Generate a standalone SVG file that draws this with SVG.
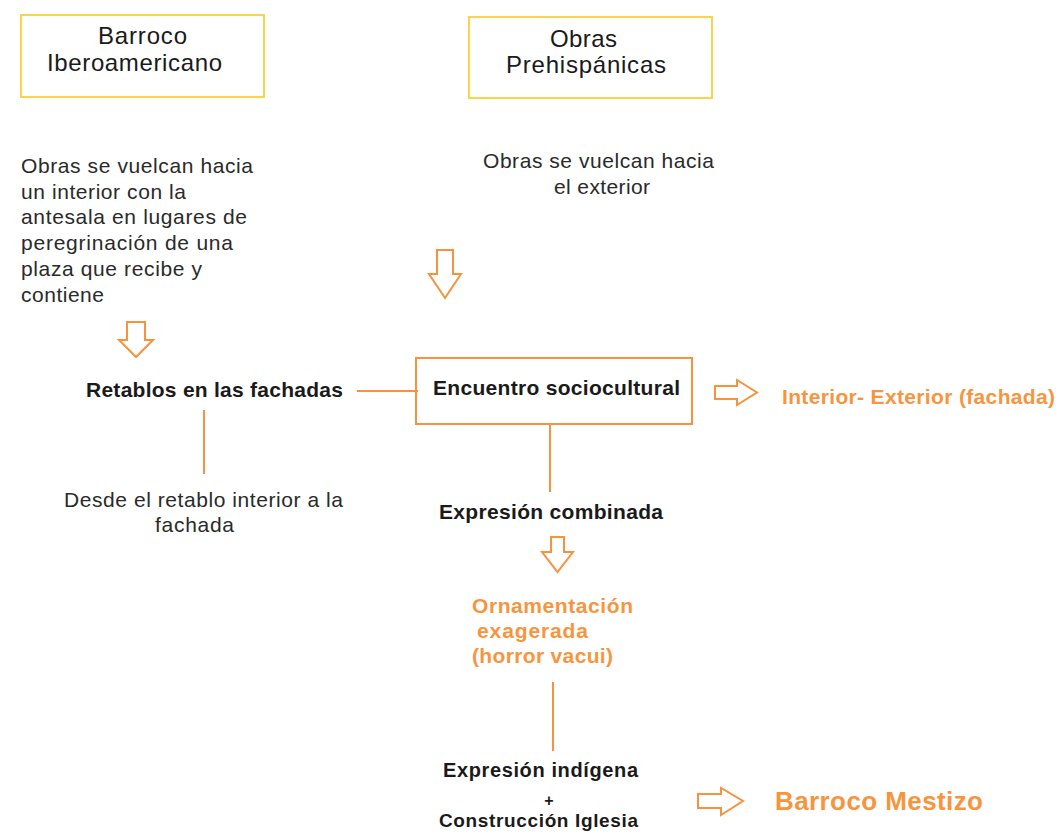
<svg xmlns="http://www.w3.org/2000/svg" width="1058" height="840" viewBox="0 0 1058 840">
<style>
  text { font-family: "Liberation Sans", Arial, sans-serif; }
  .title { font-size: 24px; fill: #1a1a1a; }
  .body { font-size: 21px; fill: #2a2a2a; }
  .bold { font-size: 21px; font-weight: bold; fill: #1a1a1a; }
  .orange { font-size: 21px; font-weight: bold; fill: #F7953F; }
  .ybox { fill: none; stroke: #FAD44C; stroke-width: 2; }
  .obox { fill: none; stroke: #F7923E; stroke-width: 2; }
  .line { stroke: #F7923E; stroke-width: 2; fill: none; }
  .harrow { fill: #fff; stroke: #F7923E; stroke-width: 2; stroke-linejoin: miter; }
</style>
<rect width="1058" height="840" fill="#fff"/>

<g id="connectors">
  <line class="line" x1="357" y1="391" x2="418" y2="391"/>
  <line class="line" x1="204" y1="410" x2="204" y2="474"/>
  <line class="line" x1="550" y1="424" x2="550" y2="492"/>
  <line class="line" x1="553" y1="682" x2="553" y2="751"/>
  <polygon class="harrow" points="127,322 145,322 145,340 153,340 136,357 119,340 127,340"/>
  <polygon class="harrow" points="437,250 453,250 453,274 461,274 445,298 429,274 437,274"/>
  <polygon class="harrow" points="551,537 564,537 564,552 573,552 557.5,572 542,552 551,552"/>
  <polygon class="harrow" points="715,386 737,386 737,380 757,392.5 737,405 737,399 715,399"/>
  <polygon class="harrow" points="698,794 721,794 721,788 743,801 721,815 721,808 698,808"/>
</g>

<g id="node-barroco-ibero">
  <rect class="ybox" x="21" y="15" width="243" height="82"/>
  <text class="title" x="98" y="44" textLength="89" lengthAdjust="spacing">Barroco</text>
  <text class="title" x="47" y="71" textLength="175" lengthAdjust="spacing">Iberoamericano</text>
</g>

<g id="node-obras-prehispanicas">
  <rect class="ybox" x="469" y="17" width="243" height="81"/>
  <text class="title" x="550" y="47" textLength="67" lengthAdjust="spacing">Obras</text>
  <text class="title" x="506" y="73" textLength="160" lengthAdjust="spacing">Prehispánicas</text>
</g>

<g id="node-obras-interior">
  <text class="body" x="21" y="173" textLength="232" lengthAdjust="spacing">Obras se vuelcan hacia</text>
  <text class="body" x="21" y="199" textLength="165" lengthAdjust="spacing">un interior con la</text>
  <text class="body" x="21" y="224" textLength="226" lengthAdjust="spacing">antesala en lugares de</text>
  <text class="body" x="21" y="250" textLength="212" lengthAdjust="spacing">peregrinación de una</text>
  <text class="body" x="21" y="276" textLength="181" lengthAdjust="spacing">plaza que recibe y</text>
  <text class="body" x="21" y="302" textLength="83" lengthAdjust="spacing">contiene</text>
</g>

<g id="node-obras-exterior">
  <text class="body" x="483" y="168" textLength="231" lengthAdjust="spacing">Obras se vuelcan hacia</text>
  <text class="body" x="554" y="194" textLength="96" lengthAdjust="spacing">el exterior</text>
</g>

<g id="node-retablos">
  <text class="bold" x="86" y="397" textLength="257" lengthAdjust="spacing">Retablos en las fachadas</text>
</g>

<g id="node-encuentro">
  <rect class="obox" x="416" y="358" width="276" height="66"/>
  <text class="bold" x="433" y="395" textLength="247" lengthAdjust="spacing">Encuentro sociocultural</text>
</g>

<g id="node-interior-exterior">
  <text class="orange" x="782" y="404" textLength="273" lengthAdjust="spacing">Interior- Exterior (fachada)</text>
</g>

<g id="node-desde">
  <text class="body" x="64" y="507" textLength="279" lengthAdjust="spacing">Desde el retablo interior a la</text>
  <text class="body" x="155" y="532" textLength="79" lengthAdjust="spacing">fachada</text>
</g>

<g id="node-expresion-combinada">
  <text class="bold" x="439" y="519" textLength="224" lengthAdjust="spacing">Expresión combinada</text>
</g>

<g id="node-ornamentacion">
  <text class="orange" x="472" y="613" textLength="161" lengthAdjust="spacing">Ornamentación</text>
  <text class="orange" x="477" y="638" textLength="111" lengthAdjust="spacing">exagerada</text>
  <text class="orange" x="472" y="663" textLength="141" lengthAdjust="spacing">(horror vacui)</text>
</g>

<g id="node-expresion-indigena">
  <text class="bold" x="443" y="777" style="font-size:20px" textLength="195" lengthAdjust="spacing">Expresión indígena</text>
  <text class="bold" x="549" y="806" style="font-size:16px" text-anchor="middle">+</text>
  <text class="bold" x="439" y="827" style="font-size:19px" textLength="199" lengthAdjust="spacing">Construcción Iglesia</text>
</g>

<g id="node-barroco-mestizo">
  <text class="orange" x="775" y="810" style="font-size:26px" textLength="208" lengthAdjust="spacing">Barroco Mestizo</text>
</g>
</svg>
